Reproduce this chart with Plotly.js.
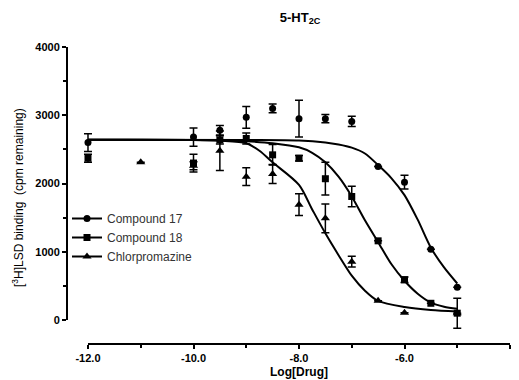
<!DOCTYPE html>
<html><head><meta charset="utf-8">
<script src="https://cdn.plot.ly/plotly-3.0.1.min.js"></script>
<style>html,body{margin:0;padding:0;background:#fff}</style>
</head><body><div id="chart" style="width:519px;height:380px"></div>
<script>
// ---- data ----
const doses = [-12, -10, -9.5, -9, -8.5, -8, -7.5, -7, -6.5, -6, -5.5, -5];
const c17 = [2600, 2680, 2780, 2970, 3100, 2950, 2950, 2910, 2250, 2020, 1035, 480];
const c17Err = [130, 135, 70, 160, 65, 270, 60, 75, 0, 100, 0, 0];
const c18 = [2370, 2300, 2640, 2660, 2420, 2370, 2070, 1810, 1160, 590, 245, 100];
const c18Err = [60, 130, 60, 80, 150, 40, 240, 150, 0, 40, 0, 220];
const cpzDoses = [-11, -10, -9.5, -9, -8.5, -8, -7.5, -7, -6.5, -6, -5];
const cpz = [2310, 2260, 2480, 2100, 2140, 1690, 1490, 855, 283, 107, 100];
const cpzErr = [0, 60, 290, 130, 140, 160, 210, 80, 0, 0, 0];

// fitted curves
const fit17X = [-12, -9, -8, -7.5, -7.25, -7, -6.75, -6.5, -6.25, -6, -5.75, -5.5, -5.25, -5];
const fit17Y = [2640, 2638, 2630, 2600, 2570, 2525, 2440, 2270, 2080, 1830, 1470, 1060, 770, 535];
const fit18X = [-12, -9.5, -9, -8.5, -8, -7.75, -7.5, -7.25, -7, -6.75, -6.5, -6.25, -6, -5.75, -5.5, -5.25, -5];
const fit18Y = [2640, 2635, 2620, 2590, 2530, 2450, 2310, 2100, 1810, 1460, 1140, 820, 575, 385, 255, 195, 165];
const fitCX = [-12, -10, -9.5, -9, -8.75, -8.5, -8, -7.75, -7.5, -7.25, -7, -6.75, -6.5, -6, -5.5, -5];
const fitCY = [2640, 2638, 2625, 2590, 2480, 2310, 1980, 1620, 1270, 950, 650, 430, 280, 190, 145, 125];

const names = ['Compound 17', 'Compound 18', 'Chlorpromazine'];
const xTicks = [-12, -10, -8, -6, -4];
const xTickText = ['-12.0', '-10.0', '-8.0', '-6.0', '-4.0'];
const yTicks = [0, 1000, 2000, 3000, 4000];

// isolate points (gaps) so the legend shows line+marker while no segments are drawn
function gapped(arr) { const o = []; arr.forEach((v, i) => { if (i) o.push(null); o.push(v); }); return o; }

const FONT = 'Arial, Liberation Sans, sans-serif';
function pts(x, y, e, name, sym, size) {
  return {
    type: 'scatter', mode: 'lines+markers', name: name,
    x: gapped(x), y: gapped(y), connectgaps: false,
    line: {color: '#000', width: 2},
    marker: {symbol: sym, size: size, color: '#000'},
    error_y: {type: 'data', array: gapped(e), visible: true, color: '#000', thickness: 1.5, width: 4},
    cliponaxis: false
  };
}
function fit(x, y) {
  return {type: 'scatter', mode: 'lines', x: x, y: y,
          line: {shape: 'spline', smoothing: 0.8, color: '#000', width: 2},
          showlegend: false, hoverinfo: 'skip'};
}

const traces = [
  fit(fit17X, fit17Y), fit(fit18X, fit18Y), fit(fitCX, fitCY),
  pts(doses, c17, c17Err, names[0], 'circle', 7),
  pts(doses, c18, c18Err, names[1], 'square', 7),
  pts(cpzDoses, cpz, cpzErr, names[2], 'triangle-up', 8)
];

const L = 67, R = 8.5, T = 47, B = 36;
const layout = {
  width: 519, height: 380,
  margin: {l: L, r: R, t: T, b: B, pad: 0},
  paper_bgcolor: '#fff', plot_bgcolor: '#fff',
  font: {family: FONT, color: '#000', size: 11},
  showlegend: true,
  title: {text: '<b>5-HT<sub>2C</sub></b>', font: {family: FONT, size: 13, color: '#000'},
          x: 300 / 519, xref: 'container', xanchor: 'center', y: 1 - 17 / 380, yref: 'container', yanchor: 'middle'},
  xaxis: {
    range: [-12.398, -4], showgrid: false, zeroline: false, showline: false,
    tickvals: xTicks, ticktext: xTickText, ticks: 'outside', ticklen: 4, tickwidth: 2, tickcolor: '#000',
    tickfont: {family: FONT, size: 11, color: '#000', weight: 'bold'},
    minor: {dtick: 1, tick0: -12, ticks: 'outside', ticklen: 3, tickwidth: 2, tickcolor: '#000', showgrid: false},
    fixedrange: true
  },
  yaxis: {
    range: [-351.6, 4000], showgrid: false, zeroline: false, showline: false,
    tickvals: yTicks, ticks: 'outside', ticklen: 4, tickwidth: 2, tickcolor: '#000',
    tickfont: {family: FONT, size: 11, color: '#000', weight: 'bold'},
    minor: {dtick: 500, tick0: 0, ticks: 'outside', ticklen: 3, tickwidth: 2, tickcolor: '#000', showgrid: false},
    fixedrange: true
  },
  shapes: [
    {type: 'line', xref: 'paper', yref: 'y', x0: 0, x1: 0, y0: 0, y1: 4000, line: {color: '#000', width: 2}},
    {type: 'line', xref: 'x', yref: 'paper', x0: -12, x1: -4, y0: 0, y1: 0, line: {color: '#000', width: 2}}
  ],
  annotations: [
    {text: '<b>Log[Drug]</b>', xref: 'paper', yref: 'paper', x: (299 - L) / (519 - L - R), y: 0, yshift: -28,
     xanchor: 'center', yanchor: 'middle', showarrow: false, font: {family: FONT, size: 12, color: '#000'}},
    {text: '[<sup>3</sup>H]LSD binding  (cpm remaining)', xref: 'paper', yref: 'paper', x: 0, xshift: -(L - 18),
     y: (380 - B - 198) / (380 - T - B), xanchor: 'center', yanchor: 'middle', textangle: -90, showarrow: false,
     font: {family: FONT, size: 12, color: '#000'}}
  ],
  legend: {x: 0.0, xanchor: 'left', y: (380 - B - 204) / (380 - T - B), yanchor: 'top',
           bgcolor: 'rgba(0,0,0,0)', borderwidth: 0, tracegroupgap: 0,
           font: {family: FONT, size: 12, color: '#333'}}
};
Plotly.newPlot('chart', traces, layout, {displayModeBar: false, staticPlot: true});
</script></body></html>
